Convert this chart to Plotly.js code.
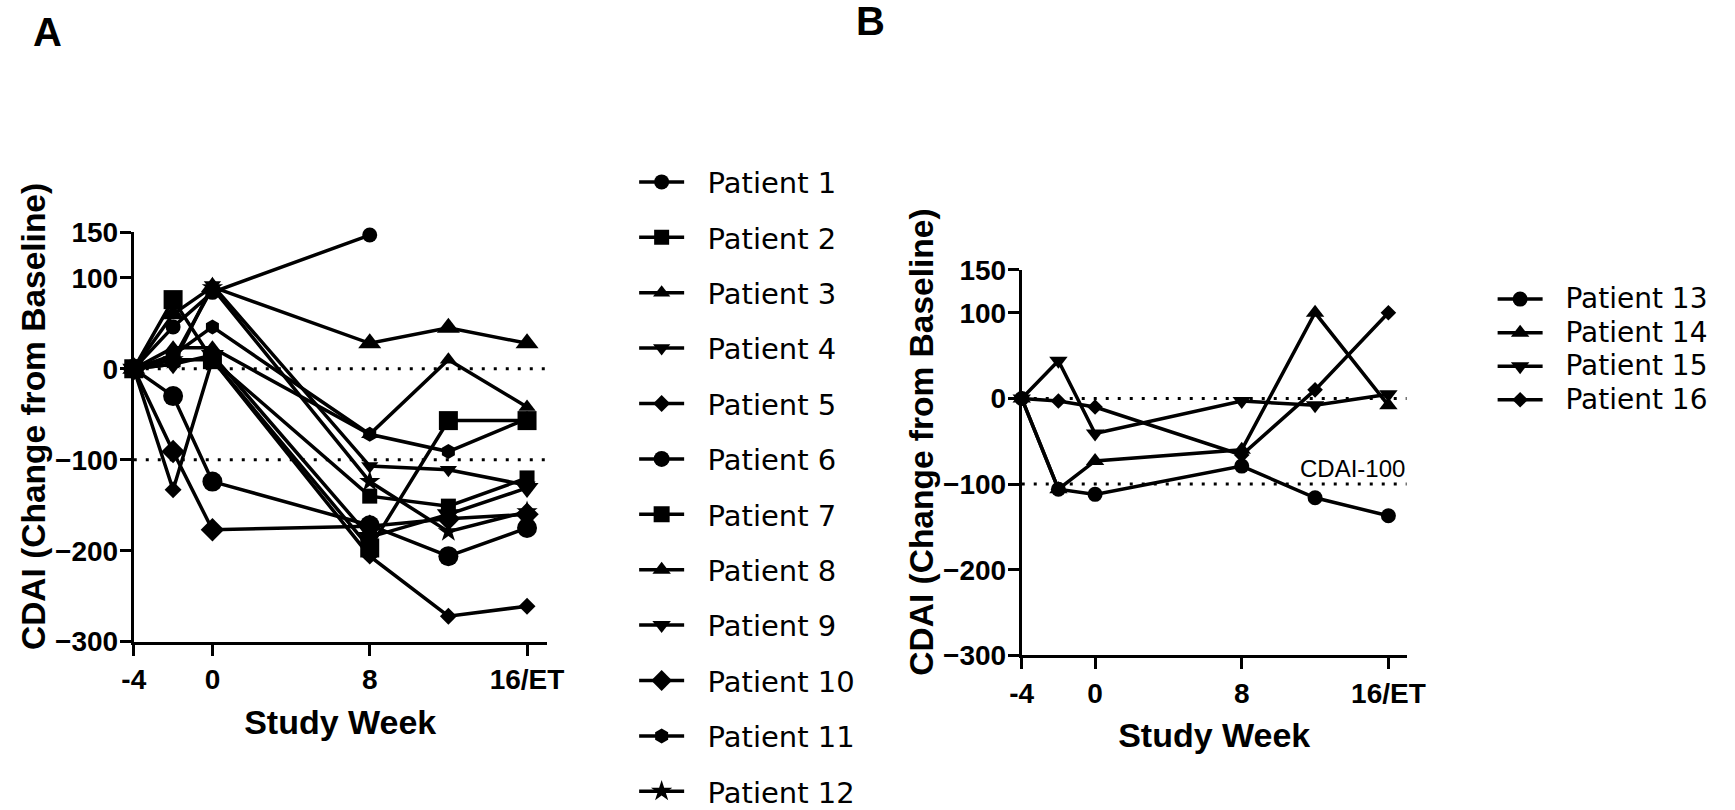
<!DOCTYPE html>
<html><head><meta charset="utf-8">
<script src="https://cdn.plot.ly/plotly-3.0.1.min.js"></script>
<style>html,body{margin:0;padding:0;background:#fff}#chart{width:1735px;height:810px}</style>
</head><body><div id="chart"></div>
<script>
// ---- data ----
const weeks = [-4, -2, 0, 8, 12, 16];
const xTickVals = [-4, 0, 8, 16];
const xTickText = ['-4', '0', '8', '16/ET'];
const yTickVals = [-300, -200, -100, 0, 100, 150];
const refLines = [0, -100];
const refLabel = 'CDAI-100';
const xTitle = 'Study Week';
const yTitle = 'CDAI (Change from Baseline)';
const panelLabels = ['A', 'B'];

const namesA = ['Patient 1','Patient 2','Patient 3','Patient 4','Patient 5','Patient 6',
                'Patient 7','Patient 8','Patient 9','Patient 10','Patient 11','Patient 12'];
const patient1  = [0, 46, 84, 147, null, null];
const patient2  = [0, 10, 10, -140, -151, -120];
const patient3  = [0, 23, 23, -72, 10, -42];
const patient4  = [0, 5, 92, -107, -111, -128];
const patient5  = [0, -133, 10, -206, -272, -261];
const patient6  = [0, -30, -124, -172, -206, -175];
const patient7  = [0, 76, 10, -197, -57, -57];
const patient8  = [0, 60, 90, 28, 45, 28];
const patient9  = [0, 5, 15, -185, -160, -131];
const patient10 = [0, -91, -177, -173, -165, -160];
const patient11 = [0, 15, 46, -72, -91, -55];
const patient12 = [0, 10, 89, -124, -179, -157];

const namesB = ['Patient 13','Patient 14','Patient 15','Patient 16'];
const patient13 = [0, -106, -112, -79, -116, -137];
const patient14 = [0, -106, -73, -60, 100, -8];
const patient15 = [0, 44, -41, -3, -8, 5];
const patient16 = [0, -3, -10, -66, 10, 100];

// ---- styles ----
const seriesA = [patient1,patient2,patient3,patient4,patient5,patient6,patient7,patient8,patient9,patient10,patient11,patient12];
const symbolsA = ['circle','square','triangle-up','triangle-down','diamond','circle','square','triangle-up','triangle-down','diamond','hexagon','star'];
const sizesA = [15,15,15,15,13,20,19,20,20,18,15,16];
const seriesB = [patient13,patient14,patient15,patient16];
const symbolsB = ['circle','triangle-up','triangle-down','diamond'];
const sizesB = [15,16,16,12];
const PAD = '\u00a0\u00a0';

const traces = [];
seriesA.forEach((ys, i) => traces.push({
  x: weeks, y: ys, name: PAD + namesA[i], type: 'scatter', mode: 'lines+markers',
  xaxis: 'x', yaxis: 'y', legend: 'legend', legendgroup: 'a' + i, cliponaxis: false,
  line: {color: '#000', width: 3.5},
  marker: {symbol: symbolsA[i], size: sizesA[i], color: '#000'}
}));
seriesB.forEach((ys, i) => traces.push({
  x: weeks, y: ys, name: '<span style="font-size:28px">' + PAD + namesB[i] + '</span>',
  type: 'scatter', mode: 'lines+markers',
  xaxis: 'x2', yaxis: 'y2', legend: 'legend2', cliponaxis: false,
  line: {color: '#000', width: 3.5},
  marker: {symbol: symbolsB[i], size: sizesB[i], color: '#000'}
}));

const FONT = 'Arial, "Liberation Sans", sans-serif';
function xAxis(domain, anchor) {
  return {domain, anchor, range: [-4, 17], tickvals: xTickVals, ticktext: xTickText,
    showline: true, linecolor: '#000', linewidth: 3, ticks: 'outside', ticklen: 11, tickwidth: 3, tickcolor: '#000',
    showgrid: false, zeroline: false,
    tickfont: {family: FONT, size: 28, weight: 700, color: '#000'},
    title: {text: xTitle, font: {family: FONT, size: 34, weight: 700, color: '#000'}, standoff: 16}};
}
function yAxis(domain, anchor) {
  return {domain, anchor, range: [-300, 150], tickvals: yTickVals,
    showline: true, linecolor: '#000', linewidth: 3, ticks: 'outside', ticklen: 11, tickwidth: 3, tickcolor: '#000',
    showgrid: false, zeroline: false, ticklabelstandoff: -4,
    tickfont: {family: FONT, size: 28, weight: 700, color: '#000'}};
}

const shapes = [];
[['x','y'],['x2','y2']].forEach(([xr, yr]) => refLines.forEach(v => shapes.push({
  type: 'line', xref: xr, yref: yr, x0: -4, x1: 17, y0: v, y1: v, layer: 'below',
  line: {color: '#000', width: 3, dash: '3px,9px'}
})));

const yTitleStyle = {xref: 'paper', yref: 'paper', xanchor: 'center', yanchor: 'middle', showarrow: false,
  textangle: -90, font: {family: FONT, size: 33.5, weight: 700, color: '#000'}};
const panelStyle = {xref: 'paper', yref: 'paper', xanchor: 'center', yanchor: 'middle', showarrow: false,
  font: {family: FONT, size: 40, weight: 700, color: '#000'}};

const layout = {
  width: 1735, height: 810, margin: {l: 0, r: 0, t: 0, b: 0, autoexpand: false},
  paper_bgcolor: '#fff', plot_bgcolor: '#fff', showlegend: true,
  font: {family: FONT, color: '#000'},
  xaxis: xAxis([0.0771, 0.3151], 'y'),
  yaxis: yAxis([0.2078, 0.7132], 'x'),
  xaxis2: xAxis([0.5889, 0.8108], 'y2'),
  yaxis2: yAxis([0.1909, 0.6667], 'x2'),
  legend: {x: 0.3655, xanchor: 'left', y: 0.3987, yanchor: 'middle', bgcolor: 'rgba(0,0,0,0)',
    font: {family: '"DejaVu Sans", sans-serif', size: 29, color: '#000'}, tracegroupgap: 14.7, itemwidth: 45},
  legend2: {x: 0.8603, xanchor: 'left', y: 0.5681, yanchor: 'middle', bgcolor: 'rgba(0,0,0,0)',
    font: {family: '"DejaVu Sans", sans-serif', size: 23.5, color: '#000'}, itemwidth: 45},
  shapes,
  annotations: [
    Object.assign({text: yTitle, x: 0.0190, y: 0.4863}, yTitleStyle),
    Object.assign({text: yTitle, x: 0.5311, y: 0.4541}, yTitleStyle),
    Object.assign({text: panelLabels[0], x: 0.0271, y: 0.961}, panelStyle),
    Object.assign({text: panelLabels[1], x: 0.5017, y: 0.9735}, panelStyle),
    {text: refLabel, xref: 'x2', yref: 'y2', x: 17, y: -100, xanchor: 'right', yanchor: 'bottom', showarrow: false, yshift: 0,
     font: {family: FONT, size: 24, color: '#000'}}
  ]
};

Plotly.newPlot('chart', traces, layout, {displayModeBar: false, staticPlot: true});
</script>
</body></html>
